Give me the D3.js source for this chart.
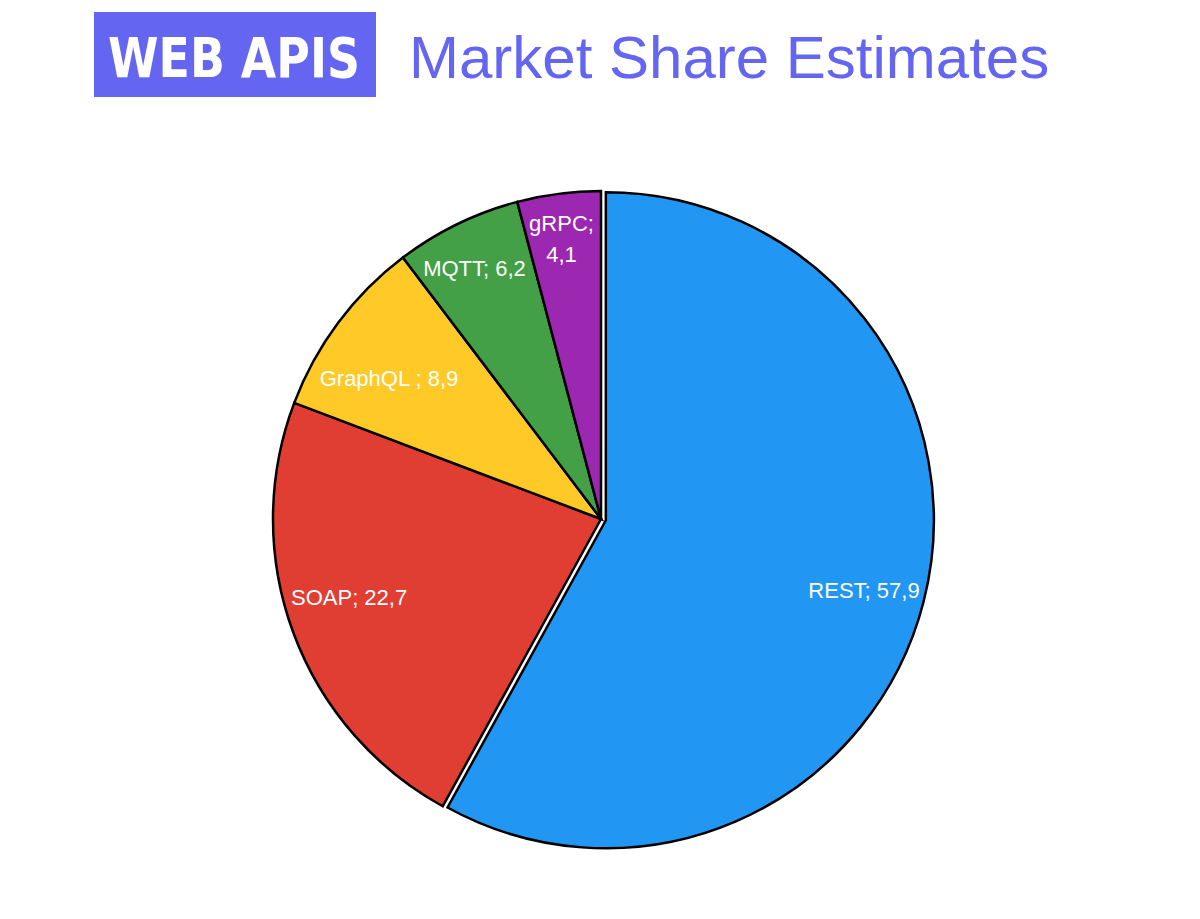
<!DOCTYPE html>
<html>
<head>
<meta charset="utf-8">
<script src="https://cdn.jsdelivr.net/npm/d3@7"></script>
<style>
  html, body { margin: 0; padding: 0; background: #fff; }
  svg { display: block; }
</style>
</head>
<body>
<svg id="chart" width="1200" height="919"></svg>
<script>
const categories = ["REST", "SOAP", "GraphQL ", "MQTT", "gRPC"];
const values = [57.9, 22.7, 8.9, 6.2, 4.1];
const colors = ["#2196F3", "#E03E33", "#FFCA28", "#43A047", "#9C27B0"];
const exploded = [true, false, false, false, false];
const badgeText = "WEB APIS";
const titleText = "Market Share Estimates";

const svg = d3.select("#chart");
const cx = 601, cy = 519, r = 328;
const fmt = v => d3.format(".1f")(v).replace(".", ",");

// Header
svg.append("rect").attr("x", 94).attr("y", 12).attr("width", 282).attr("height", 85).attr("fill", "#6466F1");
svg.append("text").attr("x", 108).attr("y", 77)
  .attr("textLength", 252).attr("lengthAdjust", "spacingAndGlyphs")
  .attr("font-family", "'DejaVu Sans', sans-serif").attr("font-weight", "bold")
  .attr("font-size", 56).attr("fill", "#fff").text(badgeText);
svg.append("text").attr("x", 409).attr("y", 78)
  .attr("font-family", "'Liberation Sans', Arial, sans-serif")
  .attr("font-size", 60).attr("fill", "#6466F1").text(titleText);

const data = categories.map((c, i) => ({ name: c, value: values[i], color: colors[i], explode: exploded[i], idx: i }));
const pie = d3.pie().value(d => d.value).sort(null);
const arcs = pie(data);
const arc = d3.arc().innerRadius(0).outerRadius(r);
const labelArc = d3.arc().innerRadius(r * 0.83).outerRadius(r * 0.83);
// layout nudges for label placement (pixels), by slice order
const labelNudge = [[-5.5, 2], [3.6, -15.8], [6, 22], [-7.3, -6.2], [-4.5, -10.5]];
const fontSize = 22;
const capHalf = fontSize * 0.716 / 2;

const g = svg.append("g").attr("transform", `translate(${cx},${cy})`);
const explodeDist = 5;

const slices = g.selectAll("g.slice").data(arcs).join("g").attr("class", "slice")
  .attr("transform", d => {
    if (!d.data.explode) return null;
    const a = (d.startAngle + d.endAngle) / 2;
    return `translate(${Math.sin(a) * explodeDist},${-Math.cos(a) * explodeDist})`;
  });

slices.append("path").attr("d", arc)
  .attr("fill", d => d.data.color)
  .attr("stroke", "#000").attr("stroke-width", 2.5).attr("stroke-linejoin", "miter");

slices.each(function(d) {
  let [lx, ly] = labelArc.centroid(d);
  const n = labelNudge[d.data.idx];
  lx += n[0]; ly += n[1];
  const label = d.data.name + "; " + fmt(d.data.value);
  const t = d3.select(this).append("text")
    .attr("font-family", "'Liberation Sans', Arial, sans-serif")
    .attr("font-size", fontSize).attr("fill", "#fff").attr("text-anchor", "middle");
  const span = d.endAngle - d.startAngle;
  if (span < 0.3) {
    const lines = [d.data.name + ";", fmt(d.data.value)];
    lines.forEach((ln, i) => {
      t.append("tspan").attr("x", lx).attr("y", ly + (i - (lines.length - 1) / 2) * 31 + capHalf).text(ln);
    });
  } else {
    t.attr("x", lx).attr("y", ly + capHalf).text(label);
  }
});
</script>
</body>
</html>
